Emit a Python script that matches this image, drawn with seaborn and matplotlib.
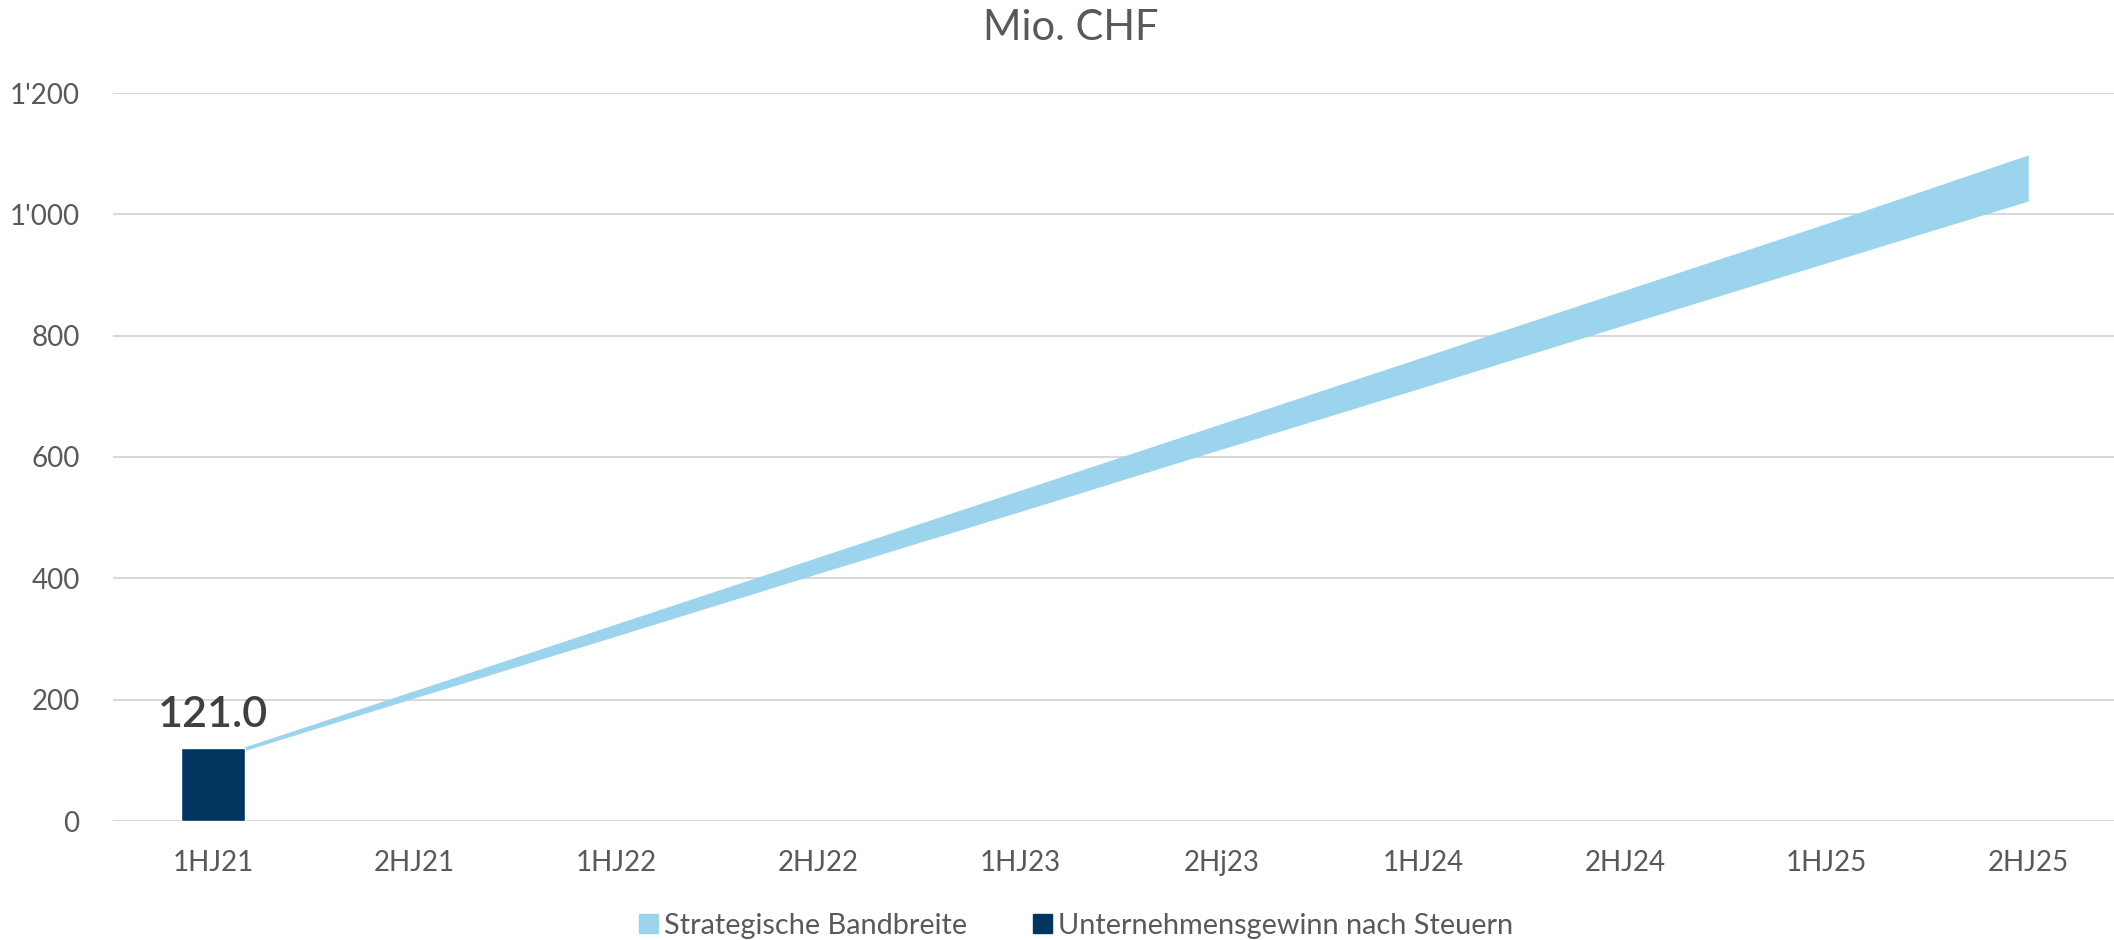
import matplotlib
matplotlib.use("Agg")
import matplotlib.pyplot as plt
from matplotlib.patches import Patch
from matplotlib.ticker import FuncFormatter
import pandas as pd
import seaborn as sns

# data
periods = ["1HJ21", "2HJ21", "1HJ22", "2HJ22", "1HJ23", "2Hj23", "1HJ24", "2HJ24", "1HJ25", "2HJ25"]
band_lower = [100, 203, 305, 408, 510, 613, 715, 818, 920, 1022]
band_upper = [105, 215, 325, 435, 545, 655, 765, 875, 985, 1098]
profit_periods = ["1HJ21"]
profit_values = [121.0]

BAND_COLOR = "#9BD4EC"
BAR_COLOR = "#023660"
TEXT_COLOR = "#595959"
GRID_COLOR = "#D9D9D9"

sns.set_theme(style="white")
plt.rcParams["font.family"] = ["Lato", "DejaVu Sans"]

fig = plt.figure(figsize=(21.14, 9.40), dpi=100)
ax = fig.add_axes([113 / 2114, 1 - 821 / 940, 1 - 113 / 2114, (821 - 93) / 940])

df_profit = pd.DataFrame({"period": profit_periods, "value": profit_values})
sns.barplot(data=df_profit, x="period", y="value", order=periods,
            color=BAR_COLOR, width=0.32, saturation=1, ax=ax, zorder=3)

x = list(range(len(periods)))
ax.fill_between(x, band_lower, band_upper, color=BAND_COLOR, linewidth=0, zorder=2)

for p, v in zip(profit_periods, profit_values):
    ax.text(periods.index(p), v + 22, f"{v:.1f}", ha="center", va="bottom",
            fontsize=31, color="#404040", fontweight="semibold")

ax.set_xlim(-0.496, 9.425)
ax.set_ylim(0, 1200)
ax.set_yticks(range(0, 1201, 200))
ax.yaxis.set_major_formatter(FuncFormatter(lambda v, _: f"{int(v):,}".replace(",", "'")))
ax.grid(axis="y", color=GRID_COLOR, linewidth=1.5, zorder=0)
ax.set_axisbelow(True)
sns.despine(ax=ax, left=True, bottom=True, top=True, right=True)
ax.tick_params(axis="both", length=0, labelsize=20, colors=TEXT_COLOR)
ax.tick_params(axis="y", pad=24)
ax.tick_params(axis="x", pad=21)
ax.set_xlabel("")
ax.set_ylabel("")

fig.text(1071 / 2114, 1 - 28 / 940, "Mio. CHF", ha="center", va="center",
         fontsize=30, color=TEXT_COLOR)

handles = [Patch(color=BAND_COLOR, label="Strategische Bandbreite"),
           Patch(color=BAR_COLOR, label="Unternehmensgewinn nach Steuern")]
fig.legend(handles=handles, loc="center", bbox_to_anchor=(0.509, 1 - 926 / 940),
           ncol=2, frameon=False, fontsize=20.8, labelcolor=TEXT_COLOR,
           handlelength=0.65, handleheight=0.65, handletextpad=0.2, columnspacing=2.3)

fig.savefig("out.png", dpi=100)
